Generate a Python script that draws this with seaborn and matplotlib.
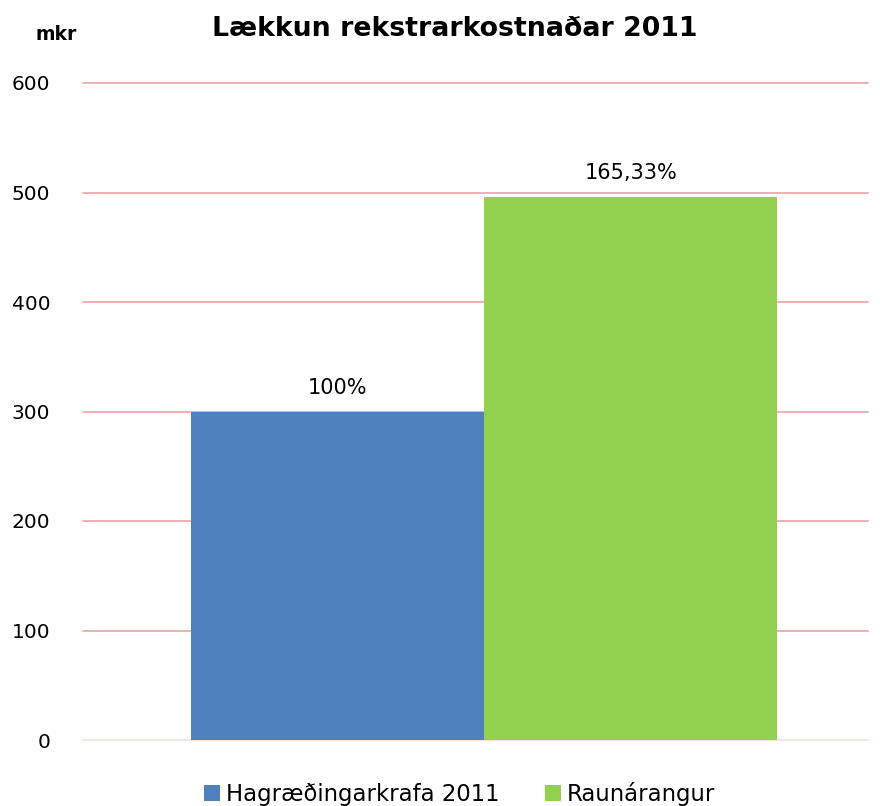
import matplotlib
matplotlib.use("Agg")
import matplotlib.pyplot as plt
import seaborn as sns

categories = ["Hagræðingarkrafa 2011", "Raunárangur"]
values = [300, 496]
bar_labels = ["100%", "165,33%"]
colors = ["#4F81BD", "#92D050"]
yticks = [0, 100, 200, 300, 400, 500, 600]

sns.set_style("white")
plt.rcParams["font.family"] = ["DejaVu Sans"]
plt.rcParams["text.color"] = "black"
plt.rcParams["ytick.color"] = "black"

fig = plt.figure(figsize=(8.8, 8.06), dpi=100)
ax = fig.add_axes([83 / 880, 1 - 740 / 806, 785 / 880, 657 / 806])

sns.barplot(x=categories, y=values, hue=categories, palette=colors,
            width=1.0, saturation=1, legend=True, linewidth=0, ax=ax)

ax.set_ylim(0, 600)
ax.set_xlim(-0.87, 1.81)
ax.set_yticks(yticks)
ax.set_yticklabels([str(t) for t in yticks], fontsize=14.5)
ax.set_xticks([])
ax.set_xlabel("")
ax.set_ylabel("")
ax.tick_params(axis="y", length=0, pad=23.5)
for s in ax.spines.values():
    s.set_visible(False)

for t in yticks[1:]:
    ax.axhline(t, color="#EFA9A9", linewidth=1.3, zorder=0, clip_on=False)
ax.axhline(0, color="#F9E0E0", linewidth=1.3, zorder=0, clip_on=False)

for cont, lab in zip(ax.containers, bar_labels):
    ax.bar_label(cont, labels=[lab], padding=10, fontsize=15, color="black")

fig.text(0.040, 0.957, "mkr", fontsize=13.5, fontweight="bold", ha="left", va="center")
fig.text(0.517, 0.964, "Lækkun rekstrarkostnaðar 2011", fontsize=19.3,
         fontweight="bold", ha="center", va="center")

leg = ax.legend(loc="upper center", bbox_to_anchor=(0.48, -0.033), ncol=2,
                frameon=False, fontsize=16.4, handlelength=0.7, handleheight=0.7,
                handletextpad=0.25, columnspacing=2.0)
for h in leg.legend_handles:
    h.set_linewidth(0)
for t in leg.get_texts():
    t.set_color("black")

fig.savefig("out.png", dpi=100)
